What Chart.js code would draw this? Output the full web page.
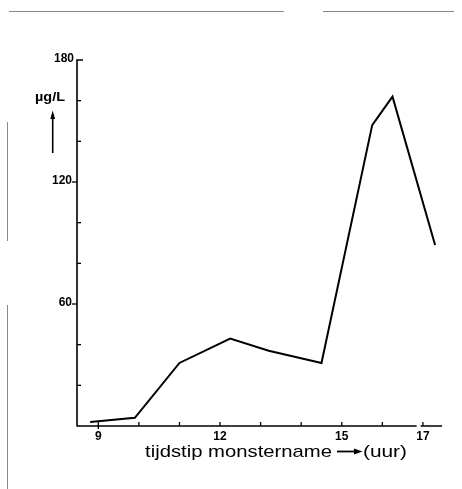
<!DOCTYPE html>
<html>
<head>
<meta charset="utf-8">
<title>tijdstip monstername</title>
<script src="https://cdn.jsdelivr.net/npm/chart.js@4.4.0/dist/chart.umd.min.js"></script>
<style>
  html, body { margin: 0; padding: 0; background: #fff; }
  #wrap { width: 462px; height: 489px; }
</style>
</head>
<body>
<div id="wrap"><canvas id="chart" width="462" height="489"></canvas></div>
<script>
// sample times (hours) and measured concentration (µg/L)
const hours = [8.8, 9.9, 11.0, 12.25, 13.2, 14.5, 15.75, 16.25, 17.3];
const concentration = [2, 4, 31, 43, 37, 31, 148, 162, 89];

// axis ticks
const xTicks = [9, 10, 11, 12, 13, 14, 15, 16, 17];
const xTickLabels = ['9', '', '', '12', '', '', '15', '', '17'];
const yMajorTicks = [60, 120, 180];
const yMinorTicks = [20, 40, 80, 100, 140, 160];

const yUnit = 'µg/L';
const xTitle = 'tijdstip monstername';
const xUnit = '(uur)';

const INK = '#000';
const FONT = '"Liberation Sans", Arial, sans-serif';

// draw text squeezed/stretched to a given width (old typeset look)
function fitText(ctx, text, x, y, width, font) {
    ctx.save();
    ctx.font = font;
    const w = ctx.measureText(text).width;
    ctx.translate(x, y);
    ctx.scale(width / w, 1);
    ctx.textAlign = 'left';
    ctx.textBaseline = 'alphabetic';
    ctx.fillText(text, 0, 0);
    ctx.restore();
}

// hand-drawn axes, ticks and labels, positioned through the chart's scales
const paperAxes = {
    id: 'paperAxes',
    afterDraw(chart) {
        const ctx = chart.ctx;
        const xs = chart.scales.x;
        const ys = chart.scales.y;
        const left = xs.left, right = xs.right;
        const top = ys.top, bottom = ys.bottom;

        ctx.save();
        ctx.strokeStyle = INK;
        ctx.fillStyle = INK;
        ctx.lineWidth = 1.6;
        ctx.lineCap = 'butt';

        // y axis
        ctx.beginPath();
        ctx.moveTo(left, bottom + 0.5);
        ctx.lineTo(left, top);
        ctx.lineTo(left + 6, top);
        ctx.stroke();

        // x axis (small break near the end, as in the print)
        const breakX = xs.getPixelForValue(16.5);
        ctx.beginPath();
        ctx.moveTo(left, bottom);
        ctx.lineTo(breakX + 14, bottom);
        ctx.moveTo(breakX + 18, bottom);
        ctx.lineTo(right, bottom);
        ctx.stroke();

        // y ticks
        ctx.lineWidth = 1.3;
        yMajorTicks.forEach(v => {
            if (v === 180) return;
            const py = ys.getPixelForValue(v);
            ctx.beginPath();
            ctx.moveTo(left - 5, py);
            ctx.lineTo(left, py);
            ctx.stroke();
        });
        yMinorTicks.forEach(v => {
            const py = ys.getPixelForValue(v);
            ctx.beginPath();
            ctx.moveTo(left, py);
            ctx.lineTo(left + 4, py);
            ctx.stroke();
        });

        // y labels
        ctx.font = 'bold 12px ' + FONT;
        ctx.textAlign = 'right';
        ctx.textBaseline = 'middle';
        yMajorTicks.forEach(v => {
            const py = ys.getPixelForValue(v);
            ctx.fillText(String(v), left - (v === 180 ? 3 : 5), py - 1);
        });

        // x ticks (pointing up into the plot)
        xTicks.forEach((v, i) => {
            const px = xs.getPixelForValue(v);
            ctx.beginPath();
            ctx.moveTo(px, bottom - 4);
            ctx.lineTo(px, bottom + (i === 0 ? 3 : 0));
            ctx.stroke();
        });

        // x labels
        ctx.textAlign = 'center';
        ctx.textBaseline = 'alphabetic';
        xTicks.forEach((v, i) => {
            if (!xTickLabels[i]) return;
            ctx.fillText(xTickLabels[i], xs.getPixelForValue(v), bottom + 14);
        });

        // x axis title with arrow
        const titleY = bottom + 30.5;
        fitText(ctx, xTitle, 145, titleY, 187, '17px ' + FONT);
        ctx.lineWidth = 1.8;
        ctx.beginPath();
        ctx.moveTo(337, titleY - 5);
        ctx.lineTo(356, titleY - 5);
        ctx.stroke();
        ctx.beginPath();
        ctx.moveTo(362.5, titleY - 5);
        ctx.lineTo(354, titleY - 8);
        ctx.lineTo(354, titleY - 2);
        ctx.closePath();
        ctx.fill();
        fitText(ctx, xUnit, 363, titleY, 44, '17px ' + FONT);

        // y unit with upward arrow
        fitText(ctx, yUnit, 35, top + 41, 30, 'bold 13px ' + FONT);
        ctx.lineWidth = 1.6;
        ctx.beginPath();
        ctx.moveTo(52.7, top + 93);
        ctx.lineTo(52.7, top + 56);
        ctx.stroke();
        ctx.beginPath();
        ctx.moveTo(52.7, top + 50.5);
        ctx.lineTo(50.3, top + 59);
        ctx.lineTo(55.1, top + 59);
        ctx.closePath();
        ctx.fill();

        // faint page edges from the scanned original
        ctx.strokeStyle = '#8a8a8a';
        ctx.lineWidth = 1;
        ctx.beginPath();
        ctx.moveTo(9, 11.5); ctx.lineTo(284, 11.5);
        ctx.moveTo(323, 11.5); ctx.lineTo(454, 11.5);
        ctx.moveTo(7.5, 122); ctx.lineTo(7.5, 241);
        ctx.moveTo(7.5, 305); ctx.lineTo(7.5, 489);
        ctx.stroke();
        ctx.restore();
    }
};

new Chart(document.getElementById('chart'), {
    type: 'line',
    data: {
        datasets: [{
            data: hours.map((h, i) => ({ x: h, y: concentration[i] })),
            borderColor: INK,
            borderWidth: 2,
            pointRadius: 0,
            tension: 0,
            fill: false
        }]
    },
    options: {
        responsive: false,
        animation: false,
        devicePixelRatio: 1,
        layout: { padding: { left: 77, right: 20, top: 60, bottom: 63 } },
        plugins: {
            legend: { display: false },
            tooltip: { enabled: false }
        },
        scales: {
            x: { type: 'linear', min: 8.475, max: 17.47, display: false },
            y: { type: 'linear', min: 0, max: 180, display: false }
        }
    },
    plugins: [paperAxes]
});
</script>
</body>
</html>
